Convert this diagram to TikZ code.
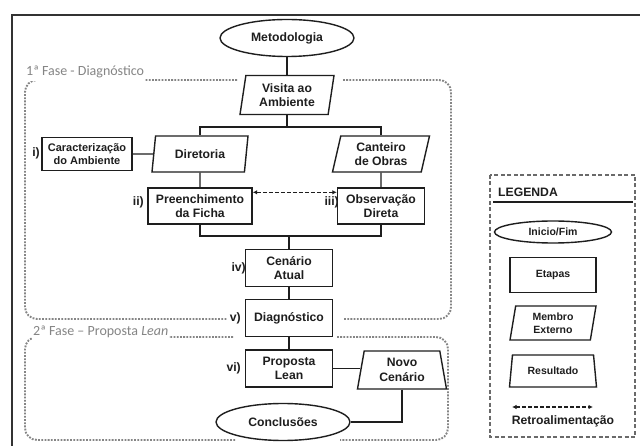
\documentclass[tikz,border=0pt]{standalone}
\usepackage{fontspec}
\setmainfont{Liberation Sans}
\newfontfamily\phasefont{Carlito}
\usetikzlibrary{shapes.geometric,arrows.meta}
\definecolor{ink}{HTML}{1E1E1E}
\definecolor{framegray}{HTML}{333333}
\definecolor{phasegray}{HTML}{858585}
\definecolor{leggray}{HTML}{6A6A6A}
\newcommand\myNF{\bfseries\fontsize{12.2}{14.5}\selectfont}
\newcommand\myCF{\bfseries\fontsize{11}{13}\selectfont}
\newcommand\myLF{\bfseries\fontsize{10.5}{13}\selectfont}
\begin{document}
\begin{tikzpicture}[x=1pt,y=-1pt,
  base/.style={draw=ink,line width=1.4pt,align=center,font=\myNF,text=ink,inner sep=1pt},
  stepbox/.style={base,rectangle},
  oval/.style={base,ellipse,inner sep=0pt},
  trap/.style={base,trapezium,trapezium stretches body},
  tag/.style={font=\myNF,text=ink,inner sep=0pt,anchor=east},
  conn/.style={draw=ink,line width=1.4pt},
  fb/.style={conn,dash pattern=on 4pt off 2pt,{Latex[length=4.5pt,width=4.5pt]}-{Latex[length=4.5pt,width=4.5pt]}},
  phase/.style={draw=phasegray,line width=1.9pt,dash pattern=on 1.8pt off 1.4pt,rounded corners=12pt},
  phaselabel/.style={font=\phasefont\fontsize{14}{16}\selectfont,text=phasegray,fill=white,anchor=base west,inner xsep=1pt,inner ysep=3pt},
  legdash/.style={draw=leggray,line width=1.3pt,dash pattern=on 4pt off 2.5pt},
]
\useasboundingbox (0,0) rectangle (640,446);
\fill[white] (0,0) rectangle (640,446);
% outer frame
\draw[framegray,line width=1.5pt] (12,446) -- (12,15) -- (640,15);

% phase boxes
\draw[phase] (237,80) -- (25,80) -- (25,319) -- (227,319);
\draw[phase] (343,80) -- (451,80) -- (451,319) -- (343,319);
\draw[phase] (233,337) -- (25,337) -- (25,440) -- (235,440);
\draw[phase] (337,337) -- (448,337) -- (448,440) -- (340,440);
\node[phaselabel] (ph1) at (25,76) {1ª Fase - Diagnóstico};
\node[phaselabel] (ph2) at (32,335) {2ª Fase – Proposta \textit{Lean}};

% nodes
\node[oval,minimum width=134pt,minimum height=37pt] (meto) at (287,38) {Metodologia};
\node[trap,trapezium left angle=77,trapezium right angle=103,minimum width=94pt,minimum height=39pt] (visita) at (287,95) {Visita ao\\Ambiente};
\node[trap,trapezium left angle=72,trapezium right angle=108,minimum width=96pt,minimum height=36pt] (dir) at (200,154) {Diretoria};
\node[trap,trapezium left angle=72,trapezium right angle=108,minimum width=97pt,minimum height=36pt] (cant) at (381,154) {Canteiro\\de Obras};
\node[stepbox,font=\myCF,minimum width=90pt,minimum height=33pt] (carac) at (87,154) {Caracterização\\do Ambiente};
\node[stepbox,minimum width=104pt,minimum height=36pt] (pren) at (200,206) {Preenchimento\\da Ficha};
\node[stepbox,minimum width=87pt,minimum height=36pt] (obs) at (381,206) {Observação\\Direta};
\node[stepbox,minimum width=87pt,minimum height=37pt] (cen) at (289,268) {Cenário\\Atual};
\node[stepbox,minimum width=87pt,minimum height=37pt] (diag) at (289,318) {Diagnóstico};
\node[stepbox,minimum width=87pt,minimum height=37pt] (prop) at (289,368.5) {Proposta\\Lean};
\node[trap,trapezium left angle=75,trapezium right angle=75,minimum width=89pt,minimum height=38pt] (novo) at (402,370) {Novo\\Cenário};
\node[oval,minimum width=134pt,minimum height=37pt] (conc) at (283,422) {Conclusões};

% step tags
\node[tag] (t1) at (40,153) {i)};
\node[tag] (t2) at (144,202) {ii)};
\node[tag] (t3) at (339,202) {iii)};
\node[tag] (t4) at (246,268) {iv)};
\node[tag] (t5) at (241,318) {v)};
\node[tag] (t6) at (241,368) {vi)};

% connectors
\coordinate (split) at (287,127);
\coordinate (join) at (289,236);
\draw[conn] (meto) -- (visita);
\draw[conn] (visita) -- (split);
\draw[conn] (dir.center |- dir.north) |- (split) -| (cant.center |- cant.north);
\draw[conn] (carac) -- (dir);
\draw[conn] (dir) -- (pren);
\draw[conn] (cant) -- (obs);
\draw[conn] (pren) |- (join) -| (obs);
\draw[conn] (join) -- (cen);
\draw[conn] (cen) -- (diag);
\draw[conn] (diag) -- (prop);
\draw[conn] (prop.east) -- (prop.east -| novo.west);
\draw[conn] (novo.south) |- (conc);
\draw[fb] ([yshift=-5pt]pren.north east) -- ([yshift=-5pt]obs.north west);

% legend
\draw[legdash] (490,175) rectangle (635,437);
\node[anchor=west,font=\myNF,text=ink,inner sep=0pt] (legt) at (498,192) {LEGENDA};
\draw[ink,line width=2.6pt] (493,202) -- (633,202);
\node[oval,font=\myLF,minimum width=117pt,minimum height=22pt] (l1) at (553,232) {Inicio/Fim};
\node[stepbox,font=\myLF,minimum width=86pt,minimum height=35pt] (l2) at (553,275) {Etapas};
\node[trap,font=\myLF,trapezium left angle=76,trapezium right angle=104,minimum width=86pt,minimum height=34pt] (l3) at (553,323) {Membro\\Externo};
\node[trap,font=\myLF,trapezium left angle=73,trapezium right angle=73,minimum width=87pt,minimum height=32pt] (l4) at (553,371) {Resultado};
\coordinate (la) at (512,407);
\coordinate (lb) at (593,407);
\draw[fb] (la) -- (lb);
\node[font=\myNF,text=ink,inner sep=0pt] (l5) at (563,421) {Retroalimentação};
\end{tikzpicture}
\end{document}
